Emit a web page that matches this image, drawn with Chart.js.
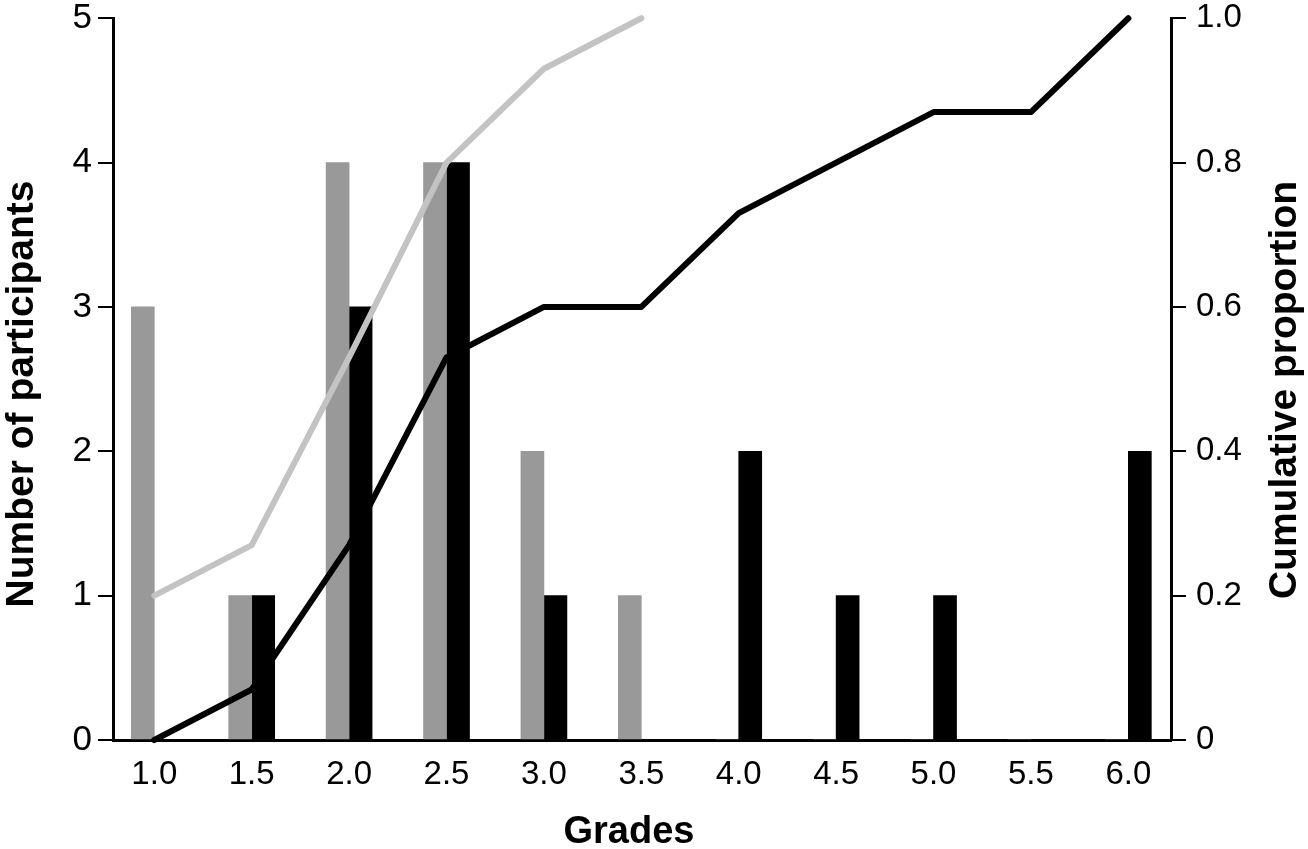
<!DOCTYPE html>
<html>
<head>
<meta charset="utf-8">
<title>Grades</title>
<script src="https://cdn.jsdelivr.net/npm/chart.js@4.4.1/dist/chart.umd.min.js"></script>
<style>
    html, body { margin: 0; padding: 0; background: #ffffff; }
    #wrap { width: 1308px; height: 849px; }
</style>
</head>
<body>
<div id="wrap"><canvas id="grades-chart" width="1308" height="849"></canvas></div>
<script>
// grades on the x axis
var grades = [1.0, 1.5, 2.0, 2.5, 3.0, 3.5, 4.0, 4.5, 5.0, 5.5, 6.0];

// number of participants per grade (grey and black groups)
var countsGrey = [3, 1, 4, 4, 2, 1, 0, 0, 0, 0, 0];
var countsBlack = [0, 1, 3, 4, 1, 0, 2, 1, 1, 0, 2];

// cumulative proportion (grey stops at 3.5)
var cumGrey = [0.2, 0.27, 0.53, 0.8, 0.93, 1.0];
var cumBlack = [0, 0.07, 0.27, 0.53, 0.6, 0.6, 0.73, 0.8, 0.87, 0.87, 1.0];

var leftTicks = [0, 1, 2, 3, 4, 5];
var rightTicks = [0, 0.2, 0.4, 0.6, 0.8, 1.0];

var FONT = '"Liberation Sans", Arial, sans-serif';

function points(xs, ys)
{
    var out = [];
    for (var i = 0; i < ys.length; i++) out.push({ x: xs[i], y: ys[i] });
    return out;
}

// rotated titles read bottom to top on both sides, so draw them here
var axisTitles = {
    id: 'axisTitles',
    afterDraw: function (chart)
    {
        var ctx = chart.ctx;
        ctx.save();
        ctx.fillStyle = '#000';
        ctx.font = 'bold 39px ' + FONT;
        ctx.textAlign = 'center';
        ctx.textBaseline = 'alphabetic';

        ctx.save();
        ctx.translate(33, 394);
        ctx.rotate(-Math.PI / 2);
        ctx.fillText('Number of participants', 0, 0);
        ctx.restore();

        ctx.save();
        ctx.translate(1296, 390);
        ctx.rotate(-Math.PI / 2);
        ctx.fillText('Cumulative proportion', 0, 0);
        ctx.restore();

        ctx.font = 'bold 38px ' + FONT;
        ctx.fillText('Grades', 629, 843);
        ctx.restore();
    }
};

var m_chart = new Chart(document.getElementById('grades-chart'), {
    type: 'bar',
    data: {
        datasets: [
            {
                type: 'line',
                yAxisID: 'y2',
                data: points(grades, cumGrey),
                borderColor: '#c3c3c3',
                borderWidth: 6,
                pointRadius: 0,
                tension: 0,
                fill: false,
                clip: false,
                borderCapStyle: 'round',
                borderJoinStyle: 'round',
                order: 0
            },
            {
                type: 'line',
                yAxisID: 'y2',
                data: points(grades, cumBlack),
                borderColor: '#000000',
                borderWidth: 6,
                pointRadius: 0,
                tension: 0,
                fill: false,
                clip: false,
                borderCapStyle: 'round',
                borderJoinStyle: 'round',
                order: 0
            },
            {
                yAxisID: 'y',
                data: points(grades, countsGrey),
                backgroundColor: '#999999',
                barThickness: 23,
                order: 1
            },
            {
                yAxisID: 'y',
                data: points(grades, countsBlack),
                backgroundColor: '#000000',
                barThickness: 23,
                order: 1
            }
        ]
    },
    options: {
        responsive: false,
        animation: false,
        layout: { padding: { top: 18, left: 0, right: 0, bottom: 0 } },
        plugins: {
            legend: { display: false },
            tooltip: { enabled: false }
        },
        scales: {
            x: {
                type: 'linear',
                offset: false,
                min: 0.788,
                max: 6.219,
                afterBuildTicks: function (s) { s.ticks = grades.map(function (v) { return { value: v }; }); },
                afterFit: function (s) { s.height = 109; },
                ticks: {
                    autoSkip: false,
                    maxRotation: 0,
                    padding: 15,
                    color: '#000',
                    font: { family: FONT, size: 33 },
                    callback: function (v) { return Number(v).toFixed(1); }
                },
                grid: { display: false, drawTicks: false },
                border: { display: true, color: '#000', width: 3 }
            },
            y: {
                position: 'left',
                min: 0,
                max: 5,
                afterBuildTicks: function (s) { s.ticks = leftTicks.map(function (v) { return { value: v }; }); },
                afterFit: function (s) { s.width = 113; },
                ticks: {
                    padding: 6,
                    color: '#000',
                    font: { family: FONT, size: 35, lineHeight: 0.5 }
                },
                grid: { drawOnChartArea: false, tickLength: 15, color: '#000', lineWidth: 2 },
                border: { color: '#000', width: 3 }
            },
            y2: {
                position: 'right',
                min: 0,
                max: 1,
                afterBuildTicks: function (s) { s.ticks = rightTicks.map(function (v) { return { value: v }; }); },
                afterFit: function (s) { s.width = 137; },
                ticks: {
                    padding: 10,
                    color: '#000',
                    font: { family: FONT, size: 33, lineHeight: 0.5 },
                    callback: function (v) { return v === 0 ? '0' : Number(v).toFixed(1); }
                },
                grid: { drawOnChartArea: false, tickLength: 15, color: '#000', lineWidth: 2 },
                border: { color: '#000', width: 3 }
            }
        }
    },
    plugins: [axisTitles]
});
</script>
</body>
</html>
